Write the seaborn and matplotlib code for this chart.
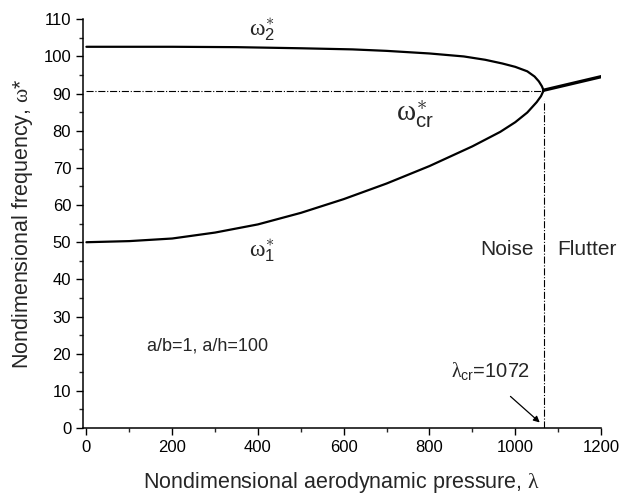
import numpy as np
import pandas as pd
import seaborn as sns
import matplotlib.pyplot as plt
from matplotlib.ticker import MultipleLocator

# Curves (lambda, omega*)
lam_w1 = [0, 100, 200, 300, 400, 500, 600, 700, 800, 900, 965, 1000, 1028,
          1050, 1060, 1066]
w1 = [50.0, 50.3, 51.0, 52.6, 54.8, 57.9, 61.6, 65.8, 70.5, 75.8, 79.7, 82.3,
      84.9, 87.7, 89.3, 90.8]

lam_w2 = [0, 200, 350, 500, 620, 700, 800, 880, 930, 970, 1000, 1028, 1045,
          1055, 1062, 1066]
w2 = [102.6, 102.6, 102.5, 102.2, 101.9, 101.5, 100.8, 100.0, 99.1, 98.1,
      97.2, 96.0, 94.6, 93.3, 92.0, 90.9]

lam_flutter = [1066, 1202]
w_flutter = [90.9, 94.6]

lam_cr = 1068
w_cr = 90.6

x_ticks = [0, 200, 400, 600, 800, 1000, 1200]
y_ticks = [0, 10, 20, 30, 40, 50, 60, 70, 80, 90, 100, 110]

sns.set_style("ticks")
plt.rcParams['font.family'] = ['Liberation Sans', 'DejaVu Sans']
plt.rcParams['mathtext.fontset'] = 'custom'
plt.rcParams['mathtext.rm'] = 'Liberation Sans'
plt.rcParams['mathtext.it'] = 'Liberation Serif'
plt.rcParams['mathtext.bf'] = 'Liberation Sans'

fig = plt.figure(figsize=(6.23, 5.01), dpi=100)
ax = fig.add_axes([0.1332, 0.1457, 0.8315, 0.8158])

df1 = pd.DataFrame({'lam': lam_w1, 'w': w1})
df2 = pd.DataFrame({'lam': lam_w2, 'w': w2})
dff = pd.DataFrame({'lam': lam_flutter, 'w': w_flutter})

sns.lineplot(data=df1, x='lam', y='w', color='black', lw=1.6, ax=ax, sort=False)
sns.lineplot(data=df2, x='lam', y='w', color='black', lw=1.6, ax=ax, sort=False)
sns.lineplot(data=dff, x='lam', y='w', color='black', lw=2.4, ax=ax, sort=False)

# critical lines
ax.plot([0, lam_cr], [w_cr, w_cr], color='black', lw=0.8, ls='-.')
ax.plot([lam_cr, lam_cr], [0, w_cr - 2.5], color='black', lw=0.8, ls='-.')

ax.set_xlim(-8, 1200)
ax.set_ylim(0, 110)
ax.set_xticks(x_ticks)
ax.set_yticks(y_ticks)
ax.xaxis.set_minor_locator(MultipleLocator(100))
ax.yaxis.set_minor_locator(MultipleLocator(5))
ax.tick_params(which='major', direction='out', length=5, width=1.0,
               labelsize=12, colors='black')
ax.tick_params(which='minor', direction='out', length=3, width=1.0)
for s in ['left', 'bottom']:
    ax.spines[s].set_linewidth(1.1)
    ax.spines[s].set_color('black')
sns.despine(ax=ax)

ax.set_xlabel(r'Nondimensional aerodynamic pressure, $\lambda$', fontsize=15.5, labelpad=11)
ax.set_ylabel(r'Nondimensional frequency, $\omega$*', fontsize=15.5, labelpad=6)

ax.text(380, 107.3, r'$\omega_{\mathrm{2}}^{\ast}$', fontsize=17, ha='left', va='center')
ax.text(380, 47.8, r'$\omega_{\mathrm{1}}^{\ast}$', fontsize=17, ha='left', va='center')
ax.text(722, 84.3, r'$\omega_{\mathrm{cr}}^{\ast}$', fontsize=21, ha='left', va='center')
ax.text(1042, 48, 'Noise', fontsize=15, ha='right', va='center')
ax.text(1098, 48, 'Flutter', fontsize=15, ha='left', va='center')
ax.text(142, 22, 'a/b=1, a/h=100', fontsize=13, ha='left', va='center')
ax.text(851, 15.3, r'$\lambda_{\mathrm{cr}}$=1072', fontsize=14.5, ha='left', va='center')
ax.annotate('', xy=(lam_cr - 6, 1.0), xytext=(984, 9.0),
            arrowprops=dict(arrowstyle='-|>', color='black', lw=0.9,
                            mutation_scale=9))

fig.savefig('out.png', dpi=100)
